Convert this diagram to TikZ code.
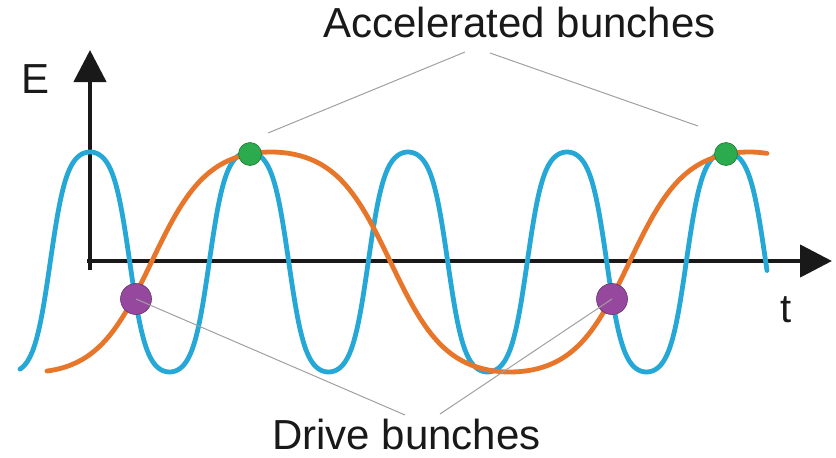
\documentclass[tikz,border=0pt]{standalone}
\usepackage{fontspec}
\setmainfont{Liberation Sans}
\usetikzlibrary{arrows.meta}
\definecolor{wblue}{RGB}{38,168,214}
\definecolor{worange}{RGB}{232,118,42}
\definecolor{dgreen}{RGB}{44,170,78}
\definecolor{dpurple}{RGB}{150,72,158}
\definecolor{lgray}{RGB}{160,160,160}
\tikzset{
  axisline/.style={line width=4.5pt, black!90, -{Triangle[length=32pt,width=32pt]}},
  wave/.style={line width=4.8pt, line join=round, line cap=round},
  greendot/.style={circle, fill=dgreen, draw=dgreen!70!black, line width=0.6pt, minimum size=23pt, inner sep=0pt},
  purpledot/.style={circle, fill=dpurple, draw=dpurple!70!black, line width=0.6pt, minimum size=31pt, inner sep=0pt},
  leader/.style={lgray, line width=1pt},
  bigtext/.style={font=\fontsize{42}{50}\selectfont, inner sep=0pt, anchor=base, text=black!90},
}
\begin{document}
\begin{tikzpicture}[x=1pt,y=-1pt,
  declare function={bw(\t)=tanh(1.4*cos(\t))/0.88535; ow(\t)=tanh(1.2*cos(\t))/0.83365;}]
\useasboundingbox (0,0) rectangle (836,458);
% axes
\coordinate (yb) at (90,270);
\coordinate (yt) at (90,50);
\coordinate (xb) at (87,261);
\coordinate (xt) at (832,261);
\draw[axisline] (yb) -- (yt);
\draw[axisline] (xb) -- (xt);
% waves
\draw[wave, wblue] plot[domain=20:767, samples=500] (\x, {262 - 110*bw((\x-90)/159*360)});
\draw[wave, worange] plot[domain=47:767, samples=400] (\x, {262 - 110*ow((\x-271)/478*360)});
% bunches
\node[purpledot] (p1) at (136,299) {};
\node[purpledot] (p2) at (612,299) {};
\node[greendot] (g1) at (250,154) {};
\node[greendot] (g2) at (726,154) {};
% labels
\node[bigtext] (acc) at (519.5,37) {Accelerated bunches};
\node[bigtext] (drv) at (406.5,449) {Drive bunches};
\node[bigtext] (E) at (36,93) {E};
\node[bigtext, font=\fontsize{40}{48}\selectfont] (t) at (786,322) {t};
% leader lines
\coordinate (a1) at (465,52);
\coordinate (a1e) at (268,133);
\coordinate (a2) at (490,53);
\coordinate (a2e) at (698,126);
\coordinate (d1) at (405,415);
\coordinate (d2) at (440,414);
\draw[leader] (a1) -- (a1e);
\draw[leader] (a2) -- (a2e);
\draw[leader] (p1.center) -- (d1);
\draw[leader] (p2.center) -- (d2);
\end{tikzpicture}
\end{document}
